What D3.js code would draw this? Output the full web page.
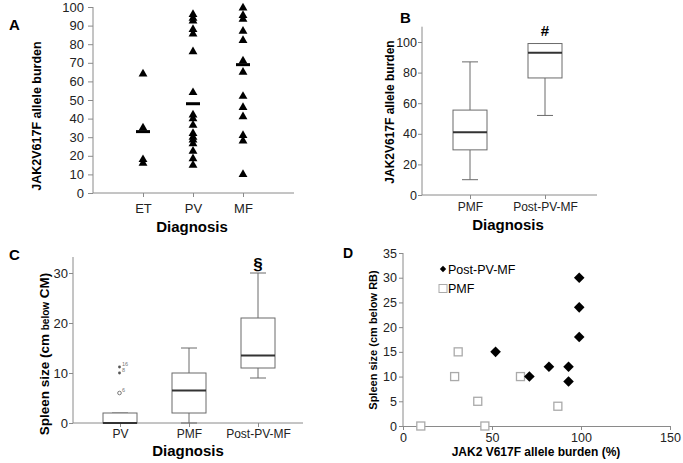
<!DOCTYPE html>
<html><head><meta charset="utf-8">
<script src="https://cdn.jsdelivr.net/npm/d3@7"></script>
<style>body{margin:0;background:#fff}svg{display:block}text{font-family:"Liberation Sans",Arial,sans-serif}</style>
</head><body><svg id="c" width="683" height="463"></svg>
<script>
// Panel A data
const catsA = ["ET","PV","MF"];
const valsET = [64,35,18,16];
const valsPV = [96,94,92.5,88,85.5,76,54,42,40,36.5,32,30,28.5,26.5,22.5,18.5,15];
const valsMF = [99.5,95.5,93.5,87,82,71,65,52,46,41,31,28,10];
const mediansA = [33,48,69];
const ticksA = [0,10,20,30,40,50,60,70,80,90,100];
// Panel B data (boxplots)
const catsB = ["PMF","Post-PV-MF"];
const boxB = [
  {lo:10, q1:29.5, med:41, q3:55.5, hi:87},
  {lo:52, q1:76.5, med:93, q3:99, hi:99}
];
const ticksB = [0,20,40,60,80,100];
// Panel C data
const catsC = ["PV","PMF","Post-PV-MF"];
const boxC = [
  {lo:0, q1:0, med:0, q3:2, hi:2},
  {lo:0, q1:2, med:6.5, q3:10, hi:15},
  {lo:9, q1:11, med:13.5, q3:21, hi:30}
];
const outliersC = [{v:11.2,sym:"*",lab:"16"},{v:10,sym:"*",lab:"8"},{v:6,sym:"o",lab:"6"}];
const ticksC = [0,10,20,30];
// Panel D data
const postX = [99,99,99,52,82,93,93,71];
const postY = [30,24,18,15,12,12,9,10];
const pmfX = [31,29,42,10,46,66,87];
const pmfY = [15,10,5,0,0,10,4];
const ticksDx = [0,50,100,150];
const ticksDy = [0,5,10,15,20,25,30,35];

const svg = d3.select("#c");
const AX = "#8a8a8a";

function styleAxis(g){
  g.selectAll("path,line").attr("stroke",AX);
  g.selectAll("text").attr("fill","#222");
}

// ---------- Panel A ----------
{
  const y = d3.scaleLinear().domain([0,100]).range([193,7]);
  const x = d3.scalePoint().domain(catsA).range([143,243]);
  const ga = svg.append("g");
  ga.append("g").attr("transform","translate(93,0)")
    .call(d3.axisLeft(y).tickValues(ticksA).tickSize(5).tickSizeOuter(0))
    .call(g=>{g.select(".domain").remove(); g.selectAll("text").attr("font-size",13).attr("dx",-1);})
    .call(styleAxis);
  ga.append("line").attr("x1",93).attr("x2",93).attr("y1",y(100)).attr("y2",y(0)).attr("stroke",AX);
  ga.append("line").attr("x1",93).attr("x2",294).attr("y1",y(0)).attr("y2",y(0)).attr("stroke",AX);
  ga.append("g").attr("transform","translate(0,193)")
    .call(d3.axisBottom(x).tickSize(4).tickPadding(7))
    .call(g=>{g.select(".domain").remove(); g.selectAll("text").attr("font-size",13);})
    .call(styleAxis);
  const tri = d3.symbol().type(d3.symbolTriangle).size(34);
  [valsET,valsPV,valsMF].forEach((vals,i)=>{
    ga.selectAll(null).data(vals).join("path")
      .attr("d",tri).attr("transform",d=>`translate(${x(catsA[i])},${y(d)})`).attr("fill","#000");
  });
  ga.selectAll(null).data(mediansA).join("rect")
    .attr("x",(d,i)=>x(catsA[i])-7).attr("y",d=>y(d)-1.5).attr("width",14).attr("height",3).attr("fill","#000");
  ga.append("text").attr("x",192).attr("y",232).attr("text-anchor","middle").attr("font-size",15).attr("font-weight","bold").text("Diagnosis");
  ga.append("text").attr("transform","translate(41,116) rotate(-90)").attr("text-anchor","middle").attr("font-size",12.5).attr("font-weight","bold").text("JAK2V617F  allele burden");
  ga.append("text").attr("x",9).attr("y",30).attr("font-size",15).attr("font-weight","bold").text("A");
}

function boxes(g, x, y, data, cats, bw, capw){
  data.forEach((b,i)=>{
    const cx = x(cats[i]);
    const col = "#6b6b6b";
    g.append("line").attr("x1",cx).attr("x2",cx).attr("y1",y(b.hi)).attr("y2",y(b.q3)).attr("stroke",col);
    g.append("line").attr("x1",cx).attr("x2",cx).attr("y1",y(b.q1)).attr("y2",y(b.lo)).attr("stroke",col);
    g.append("line").attr("x1",cx-capw/2).attr("x2",cx+capw/2).attr("y1",y(b.hi)).attr("y2",y(b.hi)).attr("stroke",col);
    g.append("line").attr("x1",cx-capw/2).attr("x2",cx+capw/2).attr("y1",y(b.lo)).attr("y2",y(b.lo)).attr("stroke",col);
    g.append("rect").attr("x",cx-bw/2).attr("y",y(b.q3)).attr("width",bw).attr("height",y(b.q1)-y(b.q3)).attr("fill","#fff").attr("stroke",col);
    g.append("line").attr("x1",cx-bw/2).attr("x2",cx+bw/2).attr("y1",y(b.med)).attr("y2",y(b.med)).attr("stroke","#333").attr("stroke-width",2);
  });
}

// ---------- Panel B ----------
{
  const y = d3.scaleLinear().domain([0,110]).range([195,26.7]);
  const x = d3.scalePoint().domain(catsB).range([470,545]);
  const gb = svg.append("g");
  gb.append("g").attr("transform","translate(422,0)")
    .call(d3.axisLeft(y).tickValues(ticksB).tickSize(4).tickPadding(1))
    .call(g=>{g.select(".domain").remove(); g.selectAll("text").attr("font-size",12.5);})
    .call(styleAxis);
  gb.append("line").attr("x1",422).attr("x2",422).attr("y1",y(110)).attr("y2",y(0)).attr("stroke",AX);
  gb.append("line").attr("x1",422).attr("x2",597).attr("y1",y(0)).attr("y2",y(0)).attr("stroke",AX);
  gb.append("g").attr("transform","translate(0,195)")
    .call(d3.axisBottom(x).tickSize(4).tickPadding(3))
    .call(g=>{g.select(".domain").remove(); g.selectAll("text").attr("font-size",12);})
    .call(styleAxis);
  boxes(gb,x,y,boxB,catsB,34,16);
  gb.append("text").attr("x",x("Post-PV-MF")).attr("y",36).attr("text-anchor","middle").attr("font-size",15).attr("font-weight","bold").text("#");
  gb.append("text").attr("x",508).attr("y",230).attr("text-anchor","middle").attr("font-size",15).attr("font-weight","bold").text("Diagnosis");
  gb.append("text").attr("transform","translate(394,112) rotate(-90)").attr("text-anchor","middle").attr("font-size",12).attr("font-weight","bold").text("JAK2V617F allele burden");
  gb.append("text").attr("x",400).attr("y",23).attr("font-size",15).attr("font-weight","bold").text("B");
}

// ---------- Panel C ----------
{
  const y = d3.scaleLinear().domain([0,33.2]).range([423,257]);
  const x = d3.scalePoint().domain(catsC).range([120,258]);
  const gc = svg.append("g");
  gc.append("g").attr("transform","translate(73,0)")
    .call(d3.axisLeft(y).tickValues(ticksC).tickSize(4).tickPadding(1))
    .call(g=>{g.select(".domain").remove(); g.selectAll("text").attr("font-size",13);})
    .call(styleAxis);
  gc.append("line").attr("x1",73).attr("x2",73).attr("y1",y(33.2)).attr("y2",y(0)).attr("stroke",AX);
  gc.append("line").attr("x1",73).attr("x2",303).attr("y1",y(0)).attr("y2",y(0)).attr("stroke",AX);
  gc.append("g").attr("transform","translate(0,423)")
    .call(d3.axisBottom(x).tickSize(4).tickPadding(2))
    .call(g=>{g.select(".domain").remove(); g.selectAll("text").attr("font-size",12);})
    .call(styleAxis);
  boxes(gc,x,y,boxC,catsC,34,16);
  outliersC.forEach(o=>{
    const cx = x("PV");
    if(o.sym==="o"){
      gc.append("circle").attr("cx",cx-0.5).attr("cy",y(o.v)).attr("r",1.8).attr("fill","none").attr("stroke","#777");
    } else {
      gc.append("circle").attr("cx",cx-0.5).attr("cy",y(o.v)).attr("r",1.4).attr("fill","#555");
    }
    gc.append("text").attr("x",cx+2).attr("y",y(o.v)-1).attr("font-size",5.5).attr("fill","#777").text(o.lab);
  });
  gc.append("text").attr("x",x("Post-PV-MF")).attr("y",270).attr("text-anchor","middle").attr("font-size",17).attr("font-weight","bold").attr("fill","#000").text("§");
  gc.append("text").attr("x",188).attr("y",456).attr("text-anchor","middle").attr("font-size",15).attr("font-weight","bold").text("Diagnosis");
  const yl = gc.append("text").attr("transform","translate(49,354) rotate(-90)").attr("text-anchor","middle").attr("font-size",13.5).attr("font-weight","bold");
  yl.append("tspan").text("Spleen size (cm ");
  yl.append("tspan").attr("font-size",10).text("below");
  yl.append("tspan").text(" CM)");
  gc.append("text").attr("x",9).attr("y",260).attr("font-size",15).attr("font-weight","bold").text("C");
}

// ---------- Panel D ----------
{
  const x = d3.scaleLinear().domain([0,150]).range([403,670]);
  const y = d3.scaleLinear().domain([0,35]).range([426,253]);
  const gd = svg.append("g");
  gd.append("g").attr("transform","translate(403,0)")
    .call(d3.axisLeft(y).tickValues(ticksDy).tickSize(4).tickPadding(2))
    .call(g=>{g.select(".domain").remove(); g.selectAll("text").attr("font-size",12.5);})
    .call(styleAxis);
  gd.append("line").attr("x1",403).attr("x2",403).attr("y1",y(35)).attr("y2",y(0)).attr("stroke",AX);
  gd.append("g").attr("transform","translate(0,426)")
    .call(d3.axisBottom(x).tickValues(ticksDx).tickSize(4).tickPadding(3))
    .call(g=>{g.select(".domain").attr("stroke",AX); g.selectAll("text").attr("font-size",12.5);})
    .call(styleAxis);
  const dpath = (r)=>`M0,${-r}L${r},0L0,${r}L${-r},0Z`;
  gd.selectAll(null).data(pmfX).join("rect")
    .attr("x",(d)=>x(d)-4).attr("y",(d,i)=>y(pmfY[i])-4).attr("width",8).attr("height",8)
    .attr("fill","#fff").attr("stroke","#aaa").attr("stroke-width",1.3);
  gd.selectAll(null).data(postX).join("path")
    .attr("d",dpath(5.3)).attr("transform",(d,i)=>`translate(${x(d)},${y(postY[i])})`).attr("fill","#000");
  gd.append("path").attr("d",dpath(3.2)).attr("transform","translate(443,269)").attr("fill","#000");
  gd.append("text").attr("x",448).attr("y",273.5).attr("font-size",12.5).text("Post-PV-MF");
  gd.append("rect").attr("x",439).attr("y",284.5).attr("width",8).attr("height",8).attr("fill","#fff").attr("stroke","#aaa");
  gd.append("text").attr("x",448).attr("y",293).attr("font-size",12.5).text("PMF");
  gd.append("text").attr("x",536).attr("y",456).attr("text-anchor","middle").attr("font-size",12).attr("font-weight","bold").text("JAK2 V617F allele burden (%)");
  gd.append("text").attr("transform","translate(377,340) rotate(-90)").attr("text-anchor","middle").attr("font-size",11).attr("font-weight","bold").text("Spleen size (cm below RB)");
  gd.append("text").attr("x",343).attr("y",258).attr("font-size",14).attr("font-weight","bold").text("D");
}
</script></body></html>
